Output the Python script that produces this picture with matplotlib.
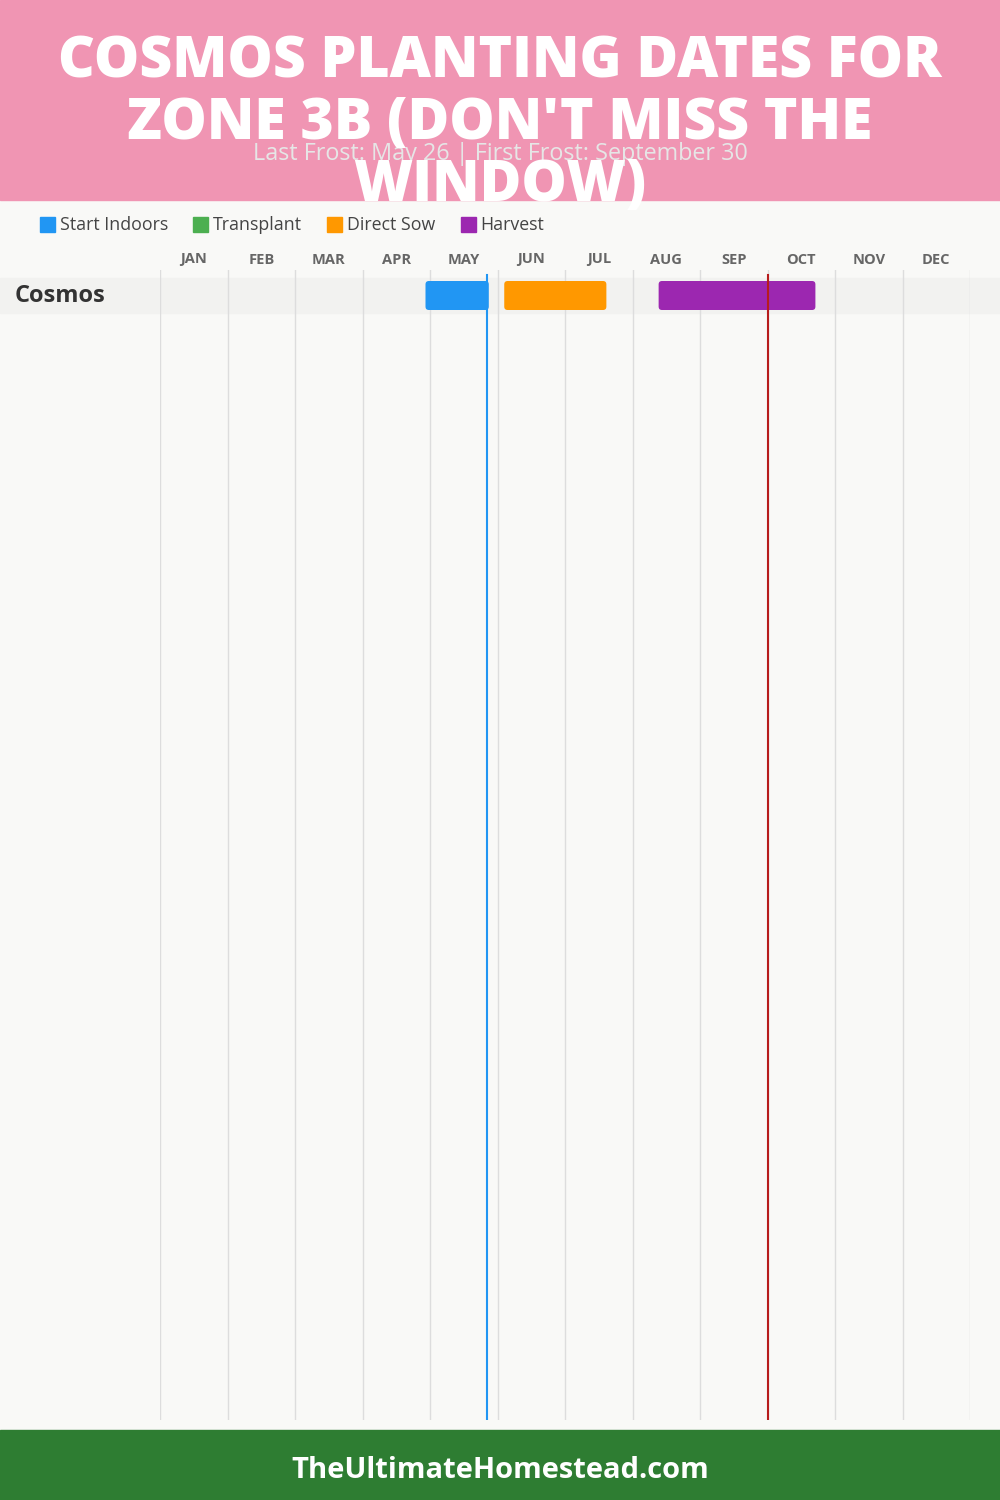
import matplotlib
matplotlib.use("Agg")
import matplotlib.pyplot as plt
from matplotlib.patches import Rectangle, FancyBboxPatch
from matplotlib.transforms import blended_transform_factory

# Data
months = ["JAN", "FEB", "MAR", "APR", "MAY", "JUN", "JUL", "AUG", "SEP", "OCT", "NOV", "DEC"]
days_in_month = [31, 28, 31, 30, 31, 30, 31, 31, 30, 31, 30, 31]
crops = ["Cosmos"]
activities = ["Start Indoors", "Transplant", "Direct Sow", "Harvest"]
activity_colors = ["#2196F3", "#4CAF50", "#FF9800", "#9C27B0"]
# (crop, activity, start (month, day), end (month, day))
periods = [
    ("Cosmos", "Start Indoors", (4, 28), (5, 27)),
    ("Cosmos", "Direct Sow", (6, 3), (7, 19)),
    ("Cosmos", "Harvest", (8, 12), (10, 22)),
]
last_frost = (5, 26)
first_frost = (9, 30)

title = "COSMOS PLANTING DATES FOR\nZONE 3B (DON'T MISS THE\nWINDOW)"
subtitle = "Last Frost: May 26 | First Frost: September 30"
footer = "TheUltimateHomestead.com"


def month_pos(md):
    m, d = md
    return (m - 1) + d / days_in_month[m - 1]


W, H = 1000, 1500
fig = plt.figure(figsize=(W / 100, H / 100), dpi=100)
fig.patch.set_facecolor("#f9f9f7")
font = "Open Sans"

# header and footer bands
fig.patches.append(Rectangle((0, 1 - 200 / H), 1, 200 / H, transform=fig.transFigure,
                             color="#f095b3", zorder=0))
fig.patches.append(Rectangle((0, 0), 1, 70 / H, transform=fig.transFigure,
                             color="#2e7d32", zorder=0))

# chart axes: x in months (0-12), y in pixels from the top of the grid
ax_top, ax_bot = 270, 1420
ax = fig.add_axes([160 / W, 1 - ax_bot / H, 810 / W, (ax_bot - ax_top) / H])
ax.set_xlim(0, 12)
ax.set_ylim(ax_bot - ax_top, 0)
ax.axis("off")
ax.patch.set_alpha(0)

for i in range(13):
    ax.axvline(i, color="#dddddd", lw=1, zorder=1)

trans = blended_transform_factory(fig.transFigure, ax.transData)
row_h = 35
bar_h = 29
for r, crop in enumerate(crops):
    yc = 25.5 + r * row_h
    ax.add_patch(Rectangle((0, yc - row_h / 2), 1, row_h, transform=trans,
                           color="#f2f2f0", zorder=0.5, clip_on=False))
    fig.text(15 / W, 1 - (270 + yc) / H, crop, fontsize=17, fontweight="bold",
             color="#333333", va="center", ha="left", family=font)
    for c, act, s, e in periods:
        if c != crop:
            continue
        x0, x1 = month_pos(s), month_pos(e)
        col = activity_colors[activities.index(act)]
        ax.add_patch(FancyBboxPatch((x0, yc - bar_h / 2), x1 - x0, bar_h,
                                    boxstyle="round,pad=0,rounding_size=0.05",
                                    mutation_aspect=67.5, fc=col, ec="none", zorder=2))

ax.plot([month_pos(last_frost)] * 2, [5, ax_bot - ax_top], color="#2196F3", lw=1.5, zorder=3)
ax.plot([month_pos(first_frost)] * 2, [5, ax_bot - ax_top], color="#B71C1C", lw=1.5, zorder=3)

# month labels
for i, m in enumerate(months):
    ax.text(i + 0.5, -6.5, m, ha="center", va="baseline", fontsize=10.5, fontweight="bold",
            color="#666666", family=font, clip_on=False)

# legend
lx = 40
for act, col in zip(activities, activity_colors):
    fig.patches.append(Rectangle((lx / W, 1 - 232 / H), 15 / W, 15 / H,
                                 transform=fig.transFigure, color=col))
    t = fig.text((lx + 20) / W, 1 - 225 / H, act, fontsize=12.8, color="#444444",
                 va="center", ha="left", family=font)
    fig.canvas.draw()
    bb = t.get_window_extent()
    lx = bb.x1 + 25

# titles
for k, line in enumerate(title.split("\n")):
    fig.text(0.5, 1 - (63 + 62 * k) / H, line, ha="center", va="center", fontsize=41,
             fontweight="heavy", color="white", family=font, zorder=5)
fig.text(0.5, 1 - 154 / H, subtitle, ha="center", va="center", fontsize=16.8,
         color="#e6e6e6", family=font, zorder=4)
fig.text(0.5, 1 - 1471 / H, footer, ha="center", va="center", fontsize=21,
         fontweight="bold", color="white", family=font)

fig.savefig("out.png", dpi=100, facecolor=fig.get_facecolor())
